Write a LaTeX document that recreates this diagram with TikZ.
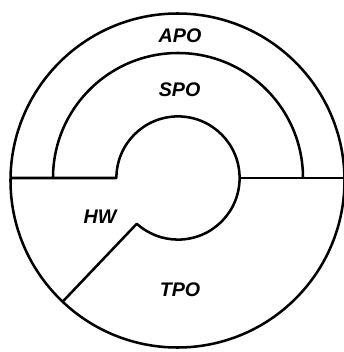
\documentclass[tikz,border=0pt]{standalone}
\usepackage{fontspec}
\setmainfont{Liberation Sans}
\usepackage{tikz}
\usetikzlibrary{calc}

\begin{document}
\begin{tikzpicture}[
  wall/.style={draw, line width=1.8pt, line join=round},
  lab/.style={font=\fontsize{14}{16}\selectfont\bfseries\itshape}
]
\useasboundingbox (-4.45,-4.35) rectangle (4.15,4.45);
% outer ring
\draw[wall] (-0.0125,-0.0625) circle (4.175);
% dividing line and inner core
\draw[wall] (-4.19,0) -- (-1.54,0) arc (180:-132:1.54) -- (227:4.2);
\draw[wall] (1.54,0) -- (4.2,0);
% middle arc
\draw[wall] (-3.125,0) arc (180:0:3.125);
\node[lab] (apo) at (0.05,3.56) {APO};
\node[lab] (spo) at (0.04,2.21) {SPO};
\node[lab] (hw) at (-1.95,-0.96) {HW};
\node[lab] (tpo) at (0.05,-2.8) {TPO};
\end{tikzpicture}
\end{document}
